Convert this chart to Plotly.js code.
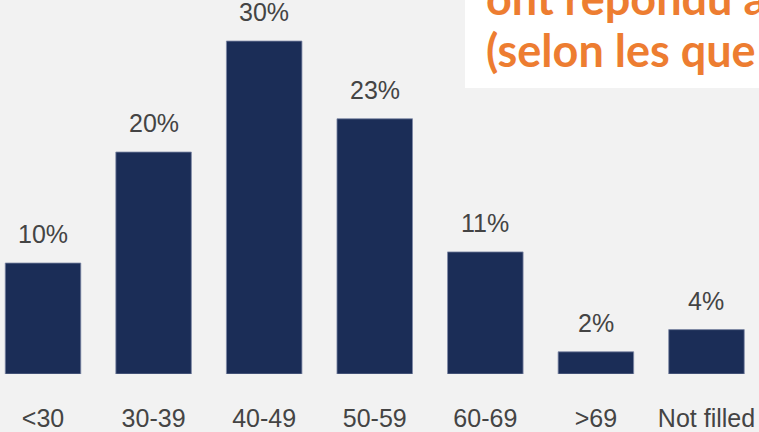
<!DOCTYPE html>
<html>
<head>
<meta charset="utf-8">
<script src="https://cdn.plot.ly/plotly-3.0.1.min.js"></script>
<style>html,body{margin:0;padding:0;background:#f2f2f2;}#chart{width:759px;height:432px;}</style>
</head>
<body>
<div id="chart"></div>
<script>
const categories = ["<30", "30-39", "40-49", "50-59", "60-69", ">69", "Not filled"];
const values = [10, 20, 30, 23, 11, 2, 4];
const valueLabels = ["10%", "20%", "30%", "23%", "11%", "2%", "4%"];
const noteLines = ["ont répondu a", "(selon les que"];

const trace = {
  type: "bar",
  x: categories,
  y: values,
  marker: {color: "#1b2d57", line: {color: "#7d88a6", width: 0.8}},
  hoverinfo: "skip"
};

const annotations = categories.map((c, i) => ({
  x: c, y: values[i], xref: "x", yref: "y",
  text: valueLabels[i], showarrow: false,
  yanchor: "bottom", yshift: 13,
  font: {family: "Liberation Sans, Arial, sans-serif", size: 25, color: "#444444"}
}));

const noteShifts = [2, -50];
noteLines.forEach((line, i) => {
  annotations.push({
    xref: "paper", yref: "paper", x: 484 / 759, y: 1,
    xanchor: "left", yanchor: "middle", align: "left", yshift: noteShifts[i],
    text: "<b>" + line + "</b>", showarrow: false,
    font: {family: "Lato, Open Sans, sans-serif", size: 45, color: "#ED7D31"}
  });
});

const layout = {
  width: 759, height: 432,
  margin: {l: 0, r: 0, t: 0, b: 58},
  paper_bgcolor: "#f2f2f2",
  plot_bgcolor: "#f2f2f2",
  bargap: 0.317,
  showlegend: false,
  xaxis: {
    type: "category",
    range: [-0.389, 6.475],
    showgrid: false, zeroline: false, showline: false,
    ticks: "outside", ticklen: 22, tickcolor: "rgba(0,0,0,0)",
    tickfont: {family: "Liberation Sans, Arial, sans-serif", size: 25, color: "#444444"}
  },
  yaxis: {
    range: [0, 33.7],
    visible: false, showgrid: false, zeroline: false
  },
  shapes: [{
    type: "rect", xref: "paper", yref: "paper",
    x0: 465 / 759, x1: 1.01, y0: 1 - 88 / 374, y1: 1.2,
    fillcolor: "#ffffff", line: {width: 0}, layer: "above"
  }],
  annotations: annotations
};

Plotly.newPlot("chart", [trace], layout, {displayModeBar: false, staticPlot: true});
</script>
</body>
</html>
